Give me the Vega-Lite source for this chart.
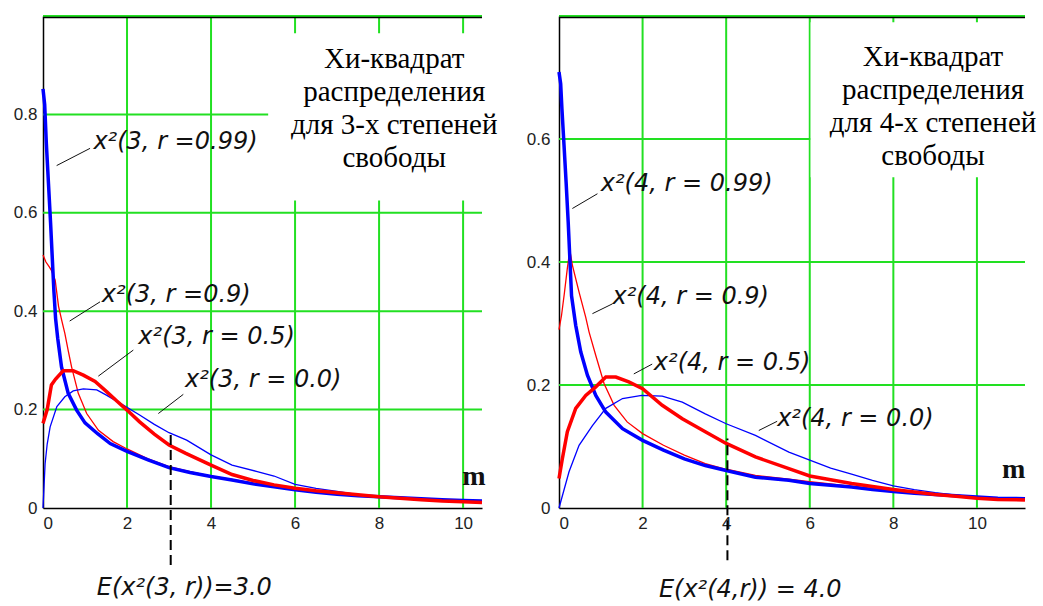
{
  "$schema": "https://vega.github.io/schema/vega-lite/v6.json",
  "padding": {"left": 13, "top": 15, "right": 0, "bottom": 0},
  "spacing": 28,
  "background": "white",
  "config": {
    "view": {"stroke": null}
  },
  "datasets": {
    "c3": [
      {"s":"r=0.99","m":0,"p":0.852},{"s":"r=0.99","m":0.04,"p":0.82},{"s":"r=0.99","m":0.08,"p":0.74},{"s":"r=0.99","m":0.13,"p":0.66},{"s":"r=0.99","m":0.18,"p":0.58},{"s":"r=0.99","m":0.22,"p":0.51},{"s":"r=0.99","m":0.26,"p":0.44},{"s":"r=0.99","m":0.3,"p":0.385},{"s":"r=0.99","m":0.35,"p":0.345},{"s":"r=0.99","m":0.44,"p":0.287},{"s":"r=0.99","m":0.6,"p":0.233},{"s":"r=0.99","m":0.8,"p":0.199},{"s":"r=0.99","m":1.0,"p":0.173},{"s":"r=0.99","m":1.3,"p":0.151},{"s":"r=0.99","m":1.6,"p":0.131},{"s":"r=0.99","m":2.0,"p":0.115},{"s":"r=0.99","m":2.5,"p":0.098},{"s":"r=0.99","m":3.0,"p":0.082},{"s":"r=0.99","m":3.5,"p":0.072},{"s":"r=0.99","m":4.0,"p":0.064},{"s":"r=0.99","m":4.5,"p":0.057},{"s":"r=0.99","m":5.0,"p":0.049},{"s":"r=0.99","m":5.5,"p":0.043},{"s":"r=0.99","m":6.0,"p":0.037},{"s":"r=0.99","m":6.5,"p":0.032},{"s":"r=0.99","m":7.0,"p":0.028},{"s":"r=0.99","m":7.5,"p":0.025},{"s":"r=0.99","m":8.0,"p":0.023},{"s":"r=0.99","m":8.5,"p":0.021},{"s":"r=0.99","m":9.0,"p":0.019},{"s":"r=0.99","m":9.5,"p":0.017},{"s":"r=0.99","m":10.0,"p":0.015},{"s":"r=0.99","m":10.45,"p":0.014},
      {"s":"r=0.9","m":0,"p":0.514},{"s":"r=0.9","m":0.07,"p":0.5},{"s":"r=0.9","m":0.15,"p":0.49},{"s":"r=0.9","m":0.2,"p":0.483},{"s":"r=0.9","m":0.29,"p":0.463},{"s":"r=0.9","m":0.37,"p":0.41},{"s":"r=0.9","m":0.45,"p":0.38},{"s":"r=0.9","m":0.52,"p":0.355},{"s":"r=0.9","m":0.6,"p":0.32},{"s":"r=0.9","m":0.68,"p":0.287},{"s":"r=0.9","m":0.84,"p":0.233},{"s":"r=0.9","m":1.04,"p":0.192},{"s":"r=0.9","m":1.32,"p":0.158},{"s":"r=0.9","m":1.67,"p":0.135},{"s":"r=0.9","m":2.0,"p":0.12},{"s":"r=0.9","m":2.5,"p":0.1},{"s":"r=0.9","m":3.0,"p":0.084},{"s":"r=0.9","m":3.5,"p":0.074},{"s":"r=0.9","m":4.0,"p":0.065},{"s":"r=0.9","m":4.5,"p":0.058},{"s":"r=0.9","m":5.0,"p":0.051},{"s":"r=0.9","m":5.5,"p":0.044},{"s":"r=0.9","m":6.0,"p":0.038},{"s":"r=0.9","m":6.5,"p":0.034},{"s":"r=0.9","m":7.0,"p":0.03},{"s":"r=0.9","m":7.5,"p":0.026},{"s":"r=0.9","m":8.0,"p":0.022},{"s":"r=0.9","m":8.5,"p":0.02},{"s":"r=0.9","m":9.0,"p":0.017},{"s":"r=0.9","m":9.5,"p":0.015},{"s":"r=0.9","m":10.0,"p":0.012},{"s":"r=0.9","m":10.45,"p":0.011},
      {"s":"r=0.5","m":0,"p":0.172},{"s":"r=0.5","m":0.1,"p":0.2},{"s":"r=0.5","m":0.2,"p":0.25},{"s":"r=0.5","m":0.3,"p":0.262},{"s":"r=0.5","m":0.48,"p":0.279},{"s":"r=0.5","m":0.72,"p":0.279},{"s":"r=0.5","m":0.96,"p":0.27},{"s":"r=0.5","m":1.24,"p":0.257},{"s":"r=0.5","m":1.52,"p":0.236},{"s":"r=0.5","m":1.75,"p":0.218},{"s":"r=0.5","m":2.0,"p":0.199},{"s":"r=0.5","m":2.3,"p":0.175},{"s":"r=0.5","m":2.65,"p":0.15},{"s":"r=0.5","m":3.0,"p":0.128},{"s":"r=0.5","m":3.4,"p":0.111},{"s":"r=0.5","m":4.0,"p":0.087},{"s":"r=0.5","m":4.5,"p":0.068},{"s":"r=0.5","m":5.0,"p":0.056},{"s":"r=0.5","m":5.5,"p":0.047},{"s":"r=0.5","m":6.0,"p":0.04},{"s":"r=0.5","m":6.5,"p":0.035},{"s":"r=0.5","m":7.0,"p":0.031},{"s":"r=0.5","m":7.5,"p":0.027},{"s":"r=0.5","m":8.0,"p":0.023},{"s":"r=0.5","m":8.5,"p":0.02},{"s":"r=0.5","m":9.0,"p":0.017},{"s":"r=0.5","m":9.5,"p":0.014},{"s":"r=0.5","m":10.0,"p":0.0125},{"s":"r=0.5","m":10.45,"p":0.011},
      {"s":"r=0.0","m":0,"p":0},{"s":"r=0.0","m":0.05,"p":0.09},{"s":"r=0.0","m":0.1,"p":0.13},{"s":"r=0.0","m":0.17,"p":0.165},{"s":"r=0.0","m":0.33,"p":0.206},{"s":"r=0.0","m":0.52,"p":0.226},{"s":"r=0.0","m":0.72,"p":0.238},{"s":"r=0.0","m":0.96,"p":0.242},{"s":"r=0.0","m":1.28,"p":0.24},{"s":"r=0.0","m":1.52,"p":0.229},{"s":"r=0.0","m":1.97,"p":0.206},{"s":"r=0.0","m":2.3,"p":0.189},{"s":"r=0.0","m":2.65,"p":0.17},{"s":"r=0.0","m":3.0,"p":0.153},{"s":"r=0.0","m":3.42,"p":0.138},{"s":"r=0.0","m":4.0,"p":0.108},{"s":"r=0.0","m":4.5,"p":0.087},{"s":"r=0.0","m":5.1,"p":0.074},{"s":"r=0.0","m":5.5,"p":0.065},{"s":"r=0.0","m":6.0,"p":0.048},{"s":"r=0.0","m":6.5,"p":0.04},{"s":"r=0.0","m":7.0,"p":0.034},{"s":"r=0.0","m":7.5,"p":0.027},{"s":"r=0.0","m":8.0,"p":0.023},{"s":"r=0.0","m":8.5,"p":0.02},{"s":"r=0.0","m":9.0,"p":0.017},{"s":"r=0.0","m":9.5,"p":0.015},{"s":"r=0.0","m":10.0,"p":0.013},{"s":"r=0.0","m":10.45,"p":0.012}
    ],
    "c4": [
      {"s":"r=0.99","m":0,"p":0.709},{"s":"r=0.99","m":0.04,"p":0.69},{"s":"r=0.99","m":0.07,"p":0.649},{"s":"r=0.99","m":0.12,"p":0.59},{"s":"r=0.99","m":0.17,"p":0.53},{"s":"r=0.99","m":0.22,"p":0.465},{"s":"r=0.99","m":0.26,"p":0.405},{"s":"r=0.99","m":0.3,"p":0.345},{"s":"r=0.99","m":0.4,"p":0.297},{"s":"r=0.99","m":0.52,"p":0.254},{"s":"r=0.99","m":0.68,"p":0.216},{"s":"r=0.99","m":0.88,"p":0.183},{"s":"r=0.99","m":1.12,"p":0.156},{"s":"r=0.99","m":1.52,"p":0.129},{"s":"r=0.99","m":2.0,"p":0.11},{"s":"r=0.99","m":2.5,"p":0.094},{"s":"r=0.99","m":3.0,"p":0.08},{"s":"r=0.99","m":3.5,"p":0.069},{"s":"r=0.99","m":4.0,"p":0.061},{"s":"r=0.99","m":4.7,"p":0.05},{"s":"r=0.99","m":5.5,"p":0.045},{"s":"r=0.99","m":6.0,"p":0.04},{"s":"r=0.99","m":6.5,"p":0.037},{"s":"r=0.99","m":7.0,"p":0.034},{"s":"r=0.99","m":7.5,"p":0.03},{"s":"r=0.99","m":8.0,"p":0.027},{"s":"r=0.99","m":8.5,"p":0.024},{"s":"r=0.99","m":9.0,"p":0.022},{"s":"r=0.99","m":9.5,"p":0.02},{"s":"r=0.99","m":10.0,"p":0.018},{"s":"r=0.99","m":10.5,"p":0.016},{"s":"r=0.99","m":11.15,"p":0.015},
      {"s":"r=0.9","m":0,"p":0.29},{"s":"r=0.9","m":0.06,"p":0.313},{"s":"r=0.9","m":0.13,"p":0.35},{"s":"r=0.9","m":0.2,"p":0.39},{"s":"r=0.9","m":0.26,"p":0.419},{"s":"r=0.9","m":0.32,"p":0.395},{"s":"r=0.9","m":0.48,"p":0.351},{"s":"r=0.9","m":0.64,"p":0.31},{"s":"r=0.9","m":0.72,"p":0.286},{"s":"r=0.9","m":0.88,"p":0.248},{"s":"r=0.9","m":1.08,"p":0.202},{"s":"r=0.9","m":1.32,"p":0.167},{"s":"r=0.9","m":1.63,"p":0.14},{"s":"r=0.9","m":2.0,"p":0.121},{"s":"r=0.9","m":2.5,"p":0.102},{"s":"r=0.9","m":3.0,"p":0.086},{"s":"r=0.9","m":3.5,"p":0.072},{"s":"r=0.9","m":4.0,"p":0.063},{"s":"r=0.9","m":4.7,"p":0.053},{"s":"r=0.9","m":5.5,"p":0.047},{"s":"r=0.9","m":6.0,"p":0.043},{"s":"r=0.9","m":6.5,"p":0.039},{"s":"r=0.9","m":7.0,"p":0.035},{"s":"r=0.9","m":7.5,"p":0.031},{"s":"r=0.9","m":8.0,"p":0.028},{"s":"r=0.9","m":8.5,"p":0.025},{"s":"r=0.9","m":9.0,"p":0.022},{"s":"r=0.9","m":9.5,"p":0.019},{"s":"r=0.9","m":10.0,"p":0.017},{"s":"r=0.9","m":10.5,"p":0.015},{"s":"r=0.9","m":11.15,"p":0.013},
      {"s":"r=0.5","m":0,"p":0.048},{"s":"r=0.5","m":0.08,"p":0.08},{"s":"r=0.5","m":0.2,"p":0.124},{"s":"r=0.5","m":0.4,"p":0.162},{"s":"r=0.5","m":0.64,"p":0.183},{"s":"r=0.5","m":0.88,"p":0.197},{"s":"r=0.5","m":1.12,"p":0.213},{"s":"r=0.5","m":1.36,"p":0.213},{"s":"r=0.5","m":1.67,"p":0.205},{"s":"r=0.5","m":2.0,"p":0.194},{"s":"r=0.5","m":2.47,"p":0.167},{"s":"r=0.5","m":2.95,"p":0.145},{"s":"r=0.5","m":3.5,"p":0.124},{"s":"r=0.5","m":4.0,"p":0.105},{"s":"r=0.5","m":4.7,"p":0.083},{"s":"r=0.5","m":5.5,"p":0.064},{"s":"r=0.5","m":6.0,"p":0.052},{"s":"r=0.5","m":6.5,"p":0.046},{"s":"r=0.5","m":7.0,"p":0.04},{"s":"r=0.5","m":7.5,"p":0.035},{"s":"r=0.5","m":8.0,"p":0.03},{"s":"r=0.5","m":8.5,"p":0.026},{"s":"r=0.5","m":9.0,"p":0.022},{"s":"r=0.5","m":9.5,"p":0.019},{"s":"r=0.5","m":10.0,"p":0.016},{"s":"r=0.5","m":10.5,"p":0.014},{"s":"r=0.5","m":11.15,"p":0.013},
      {"s":"r=0.0","m":0,"p":0},{"s":"r=0.0","m":0.24,"p":0.059},{"s":"r=0.0","m":0.48,"p":0.102},{"s":"r=0.0","m":0.8,"p":0.134},{"s":"r=0.0","m":1.12,"p":0.162},{"s":"r=0.0","m":1.52,"p":0.178},{"s":"r=0.0","m":1.98,"p":0.183},{"s":"r=0.0","m":2.47,"p":0.182},{"s":"r=0.0","m":2.95,"p":0.172},{"s":"r=0.0","m":3.5,"p":0.153},{"s":"r=0.0","m":4.0,"p":0.137},{"s":"r=0.0","m":4.7,"p":0.118},{"s":"r=0.0","m":5.5,"p":0.091},{"s":"r=0.0","m":6.0,"p":0.078},{"s":"r=0.0","m":6.5,"p":0.065},{"s":"r=0.0","m":7.0,"p":0.055},{"s":"r=0.0","m":7.5,"p":0.045},{"s":"r=0.0","m":8.0,"p":0.036},{"s":"r=0.0","m":8.5,"p":0.03},{"s":"r=0.0","m":9.0,"p":0.025},{"s":"r=0.0","m":9.5,"p":0.021},{"s":"r=0.0","m":10.0,"p":0.018},{"s":"r=0.0","m":10.5,"p":0.016},{"s":"r=0.0","m":11.15,"p":0.015}
    ]
  },
  "hconcat": [
    {
      "width": 439,
      "height": 492,
      "resolve": {"axis": {"x": "independent", "y": "independent"}},
      "layer": [
        {
          "data": {"values": [{"g": 2}, {"g": 4}, {"g": 6}, {"g": 8}, {"g": 10}]},
          "mark": {"type": "rule", "color": "#22e022", "strokeWidth": 2},
          "encoding": {
            "x": {"field": "g", "type": "quantitative", "scale": {"domain": [0, 10.45], "nice": false},
              "axis": {"orient": "bottom", "values": [0, 2, 4, 6, 8, 10], "format": "d", "title": null, "grid": false, "ticks": false, "labelPadding": 7, "labelFont": "Liberation Sans", "labelFontSize": 17, "labelColor": "#222222", "domainColor": "#000000", "domainWidth": 1.5}}
          }
        },
        {
          "data": {"values": [{"g": 0.2}, {"g": 0.4}, {"g": 0.6}, {"g": 0.8}, {"g": 1}]},
          "mark": {"type": "rule", "color": "#22e022", "strokeWidth": 2},
          "encoding": {
            "y": {"field": "g", "type": "quantitative", "scale": {"domain": [0, 1], "nice": false},
              "axis": {"orient": "left", "values": [0, 0.2, 0.4, 0.6, 0.8], "format": "~g", "title": null, "grid": false, "ticks": false, "labelPadding": 6, "labelFont": "Liberation Sans", "labelFontSize": 17, "labelColor": "#222222", "domainColor": "#000000", "domainWidth": 1.5}}
          }
        },
        {
          "data": {"values": [{"m": 5.36, "m2": 10.45, "p": 0.625, "p2": 0.965}]},
          "mark": {"type": "rect", "fill": "white"},
          "encoding": {
            "x": {"field": "m", "type": "quantitative", "scale": {"domain": [0, 10.45], "nice": false}, "axis": null},
            "x2": {"field": "m2"},
            "y": {"field": "p", "type": "quantitative", "scale": {"domain": [0, 1], "nice": false}, "axis": null},
            "y2": {"field": "p2"}
          }
        },
        {
          "data": {"values": [{"m": 0, "m2": 10.45}]},
          "mark": {"type": "rule", "color": "#000000", "strokeWidth": 1.5, "yOffset": 1.5},
          "encoding": {
            "x": {"field": "m", "type": "quantitative", "scale": {"domain": [0, 10.45], "nice": false}, "axis": null},
            "x2": {"field": "m2"},
            "y": {"datum": 1, "type": "quantitative", "scale": {"domain": [0, 1], "nice": false}, "axis": null}
          }
        },
        {
          "data": {"name": "c3"},
          "transform": [{"filter": {"field": "s", "oneOf": ["r=0.9", "r=0.0"]}}],
          "mark": {"type": "line", "strokeWidth": 1.3},
          "encoding": {
            "x": {"field": "m", "type": "quantitative", "scale": {"domain": [0, 10.45], "nice": false}, "axis": null},
            "y": {"field": "p", "type": "quantitative", "scale": {"domain": [0, 1], "nice": false}, "axis": null},
            "color": {"field": "s", "type": "nominal", "scale": {"domain": ["r=0.99", "r=0.9", "r=0.5", "r=0.0"], "range": ["#0000ff", "#ff0000", "#ff0000", "#0000ff"]}, "legend": null}
          }
        },
        {
          "data": {"name": "c3"},
          "transform": [{"filter": {"field": "s", "oneOf": ["r=0.99", "r=0.5"]}}],
          "mark": {"type": "line", "strokeWidth": 3.5},
          "encoding": {
            "x": {"field": "m", "type": "quantitative", "scale": {"domain": [0, 10.45], "nice": false}, "axis": null},
            "y": {"field": "p", "type": "quantitative", "scale": {"domain": [0, 1], "nice": false}, "axis": null},
            "color": {"field": "s", "type": "nominal", "scale": {"domain": ["r=0.99", "r=0.9", "r=0.5", "r=0.0"], "range": ["#0000ff", "#ff0000", "#ff0000", "#0000ff"]}, "legend": null}
          }
        },
        {
          "data": {"values": [
            {"m": 0.325, "p": 0.696, "m2": 1.12, "p2": 0.731},
            {"m": 0.635, "p": 0.38, "m2": 1.357, "p2": 0.419},
            {"m": 1.317, "p": 0.268, "m2": 2.15, "p2": 0.321},
            {"m": 2.745, "p": 0.192, "m2": 3.34, "p2": 0.231}
          ]},
          "mark": {"type": "rule", "color": "#111111", "strokeWidth": 1},
          "encoding": {
            "x": {"field": "m", "type": "quantitative", "scale": {"domain": [0, 10.45], "nice": false}, "axis": null},
            "y": {"field": "p", "type": "quantitative", "scale": {"domain": [0, 1], "nice": false}, "axis": null},
            "x2": {"field": "m2"},
            "y2": {"field": "p2"}
          }
        },
        {
          "data": {"values": [{"m": 3.04, "p": -0.116, "p2": 0.152}]},
          "mark": {"type": "rule", "color": "#000000", "strokeWidth": 2, "strokeDash": [10, 5]},
          "encoding": {
            "x": {"field": "m", "type": "quantitative", "scale": {"domain": [0, 10.45], "nice": false}, "axis": null},
            "y": {"field": "p", "type": "quantitative", "scale": {"domain": [0, 1], "nice": false}, "axis": null},
            "y2": {"field": "p2"}
          }
        },
        {
          "data": {"values": [
            {"t": "x²(3, r =0.99)", "m": 1.2, "p": 0.73},
            {"t": "x²(3, r =0.9)", "m": 1.4, "p": 0.419},
            {"t": "x²(3, r = 0.5)", "m": 2.27, "p": 0.334},
            {"t": "x²(3, r = 0.0)", "m": 3.38, "p": 0.246},
            {"t": "E(x²(3, r))=3.0", "m": 1.28, "p": -0.177}
          ]},
          "mark": {"type": "text", "align": "left", "baseline": "alphabetic", "font": "DejaVu Sans", "fontStyle": "italic", "fontSize": 24, "color": "#111111"},
          "encoding": {
            "x": {"field": "m", "type": "quantitative", "scale": {"domain": [0, 10.45], "nice": false}, "axis": null},
            "y": {"field": "p", "type": "quantitative", "scale": {"domain": [0, 1], "nice": false}, "axis": null},
            "text": {"field": "t"}
          }
        },
        {
          "data": {"values": [{"t": "m", "m": 9.98, "p": 0.047}]},
          "mark": {"type": "text", "align": "left", "baseline": "alphabetic", "font": "Liberation Serif", "fontWeight": "bold", "fontSize": 28, "color": "#111111"},
          "encoding": {
            "x": {"field": "m", "type": "quantitative", "scale": {"domain": [0, 10.45], "nice": false}, "axis": null},
            "y": {"field": "p", "type": "quantitative", "scale": {"domain": [0, 1], "nice": false}, "axis": null},
            "text": {"field": "t"}
          }
        },
        {
          "data": {"values": [{"t": "Хи-квадрат\nраспределения\nдля 3-х степеней\nсвободы", "m": 8.36, "p": 0.895}]},
          "mark": {"type": "text", "align": "center", "baseline": "alphabetic", "lineBreak": "\n", "lineHeight": 33, "font": "Liberation Serif", "fontSize": 29, "color": "#000000"},
          "encoding": {
            "x": {"field": "m", "type": "quantitative", "scale": {"domain": [0, 10.45], "nice": false}, "axis": null},
            "y": {"field": "p", "type": "quantitative", "scale": {"domain": [0, 1], "nice": false}, "axis": null},
            "text": {"field": "t"}
          }
        }
      ]
    },
    {
      "width": 466,
      "height": 492,
      "resolve": {"axis": {"x": "independent", "y": "independent"}},
      "layer": [
        {
          "data": {"values": [{"g": 2}, {"g": 4}, {"g": 6}, {"g": 8}, {"g": 10}]},
          "mark": {"type": "rule", "color": "#22e022", "strokeWidth": 2},
          "encoding": {
            "x": {"field": "g", "type": "quantitative", "scale": {"domain": [0, 11.15], "nice": false},
              "axis": {"orient": "bottom", "values": [0, 2, 4, 6, 8, 10], "format": "d", "title": null, "grid": false, "ticks": false, "labelPadding": 7, "labelFont": "Liberation Sans", "labelFontSize": 17, "labelColor": "#222222", "domainColor": "#000000", "domainWidth": 1.5}}
          }
        },
        {
          "data": {"values": [{"g": 0.2}, {"g": 0.4}, {"g": 0.6}, {"g": 0.8}]},
          "mark": {"type": "rule", "color": "#22e022", "strokeWidth": 2},
          "encoding": {
            "y": {"field": "g", "type": "quantitative", "scale": {"domain": [0, 0.8], "nice": false},
              "axis": {"orient": "left", "values": [0, 0.2, 0.4, 0.6], "format": "~g", "title": null, "grid": false, "ticks": false, "labelPadding": 9, "labelFont": "Liberation Sans", "labelFontSize": 17, "labelColor": "#222222", "domainColor": "#000000", "domainWidth": 1.5}}
          }
        },
        {
          "data": {"values": [{"m": 6.02, "m2": 11.15, "p": 0.538, "p2": 0.79}]},
          "mark": {"type": "rect", "fill": "white"},
          "encoding": {
            "x": {"field": "m", "type": "quantitative", "scale": {"domain": [0, 11.15], "nice": false}, "axis": null},
            "x2": {"field": "m2"},
            "y": {"field": "p", "type": "quantitative", "scale": {"domain": [0, 0.8], "nice": false}, "axis": null},
            "y2": {"field": "p2"}
          }
        },
        {
          "data": {"values": [{"m": 0, "m2": 11.15}]},
          "mark": {"type": "rule", "color": "#000000", "strokeWidth": 1.5, "yOffset": 1.5},
          "encoding": {
            "x": {"field": "m", "type": "quantitative", "scale": {"domain": [0, 11.15], "nice": false}, "axis": null},
            "x2": {"field": "m2"},
            "y": {"datum": 0.8, "type": "quantitative", "scale": {"domain": [0, 0.8], "nice": false}, "axis": null}
          }
        },
        {
          "data": {"name": "c4"},
          "transform": [{"filter": {"field": "s", "oneOf": ["r=0.9", "r=0.0"]}}],
          "mark": {"type": "line", "strokeWidth": 1.3},
          "encoding": {
            "x": {"field": "m", "type": "quantitative", "scale": {"domain": [0, 11.15], "nice": false}, "axis": null},
            "y": {"field": "p", "type": "quantitative", "scale": {"domain": [0, 0.8], "nice": false}, "axis": null},
            "color": {"field": "s", "type": "nominal", "scale": {"domain": ["r=0.99", "r=0.9", "r=0.5", "r=0.0"], "range": ["#0000ff", "#ff0000", "#ff0000", "#0000ff"]}, "legend": null}
          }
        },
        {
          "data": {"name": "c4"},
          "transform": [{"filter": {"field": "s", "oneOf": ["r=0.99", "r=0.5"]}}],
          "mark": {"type": "line", "strokeWidth": 3.5},
          "encoding": {
            "x": {"field": "m", "type": "quantitative", "scale": {"domain": [0, 11.15], "nice": false}, "axis": null},
            "y": {"field": "p", "type": "quantitative", "scale": {"domain": [0, 0.8], "nice": false}, "axis": null},
            "color": {"field": "s", "type": "nominal", "scale": {"domain": ["r=0.99", "r=0.9", "r=0.5", "r=0.0"], "range": ["#0000ff", "#ff0000", "#ff0000", "#0000ff"]}, "legend": null}
          }
        },
        {
          "data": {"values": [
            {"m": 0.32, "p": 0.487, "m2": 0.92, "p2": 0.511},
            {"m": 0.8, "p": 0.316, "m2": 1.28, "p2": 0.332},
            {"m": 1.79, "p": 0.218, "m2": 2.23, "p2": 0.234},
            {"m": 4.78, "p": 0.126, "m2": 5.22, "p2": 0.141}
          ]},
          "mark": {"type": "rule", "color": "#111111", "strokeWidth": 1},
          "encoding": {
            "x": {"field": "m", "type": "quantitative", "scale": {"domain": [0, 11.15], "nice": false}, "axis": null},
            "y": {"field": "p", "type": "quantitative", "scale": {"domain": [0, 0.8], "nice": false}, "axis": null},
            "x2": {"field": "m2"},
            "y2": {"field": "p2"}
          }
        },
        {
          "data": {"values": [{"m": 4.03, "p": -0.085, "p2": 0.113}]},
          "mark": {"type": "rule", "color": "#000000", "strokeWidth": 2, "strokeDash": [10, 5]},
          "encoding": {
            "x": {"field": "m", "type": "quantitative", "scale": {"domain": [0, 11.15], "nice": false}, "axis": null},
            "y": {"field": "p", "type": "quantitative", "scale": {"domain": [0, 0.8], "nice": false}, "axis": null},
            "y2": {"field": "p2"}
          }
        },
        {
          "data": {"values": [
            {"t": "x²(4, r = 0.99)", "m": 1.0, "p": 0.515},
            {"t": "x²(4, r = 0.9)", "m": 1.28, "p": 0.332},
            {"t": "x²(4, r = 0.5)", "m": 2.27, "p": 0.224},
            {"t": "x²(4, r = 0.0)", "m": 5.22, "p": 0.134},
            {"t": "E(x²(4,r)) = 4.0", "m": 2.39, "p": -0.145}
          ]},
          "mark": {"type": "text", "align": "left", "baseline": "alphabetic", "font": "DejaVu Sans", "fontStyle": "italic", "fontSize": 24, "color": "#111111"},
          "encoding": {
            "x": {"field": "m", "type": "quantitative", "scale": {"domain": [0, 11.15], "nice": false}, "axis": null},
            "y": {"field": "p", "type": "quantitative", "scale": {"domain": [0, 0.8], "nice": false}, "axis": null},
            "text": {"field": "t"}
          }
        },
        {
          "data": {"values": [{"t": "m", "m": 10.6, "p": 0.048}]},
          "mark": {"type": "text", "align": "left", "baseline": "alphabetic", "font": "Liberation Serif", "fontWeight": "bold", "fontSize": 28, "color": "#111111"},
          "encoding": {
            "x": {"field": "m", "type": "quantitative", "scale": {"domain": [0, 11.15], "nice": false}, "axis": null},
            "y": {"field": "p", "type": "quantitative", "scale": {"domain": [0, 0.8], "nice": false}, "axis": null},
            "text": {"field": "t"}
          }
        },
        {
          "data": {"values": [{"t": "Хи-квадрат\nраспределения\nдля 4-х степеней\nсвободы", "m": 8.95, "p": 0.719}]},
          "mark": {"type": "text", "align": "center", "baseline": "alphabetic", "lineBreak": "\n", "lineHeight": 33, "font": "Liberation Serif", "fontSize": 29, "color": "#000000"},
          "encoding": {
            "x": {"field": "m", "type": "quantitative", "scale": {"domain": [0, 11.15], "nice": false}, "axis": null},
            "y": {"field": "p", "type": "quantitative", "scale": {"domain": [0, 0.8], "nice": false}, "axis": null},
            "text": {"field": "t"}
          }
        }
      ]
    }
  ]
}
